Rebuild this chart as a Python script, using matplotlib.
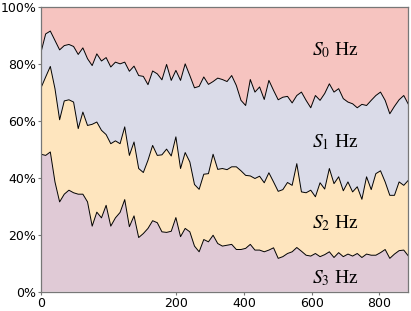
import matplotlib
matplotlib.use('Agg')
import matplotlib.pyplot as plt
from matplotlib.ticker import PercentFormatter
import numpy as np

# boundaries of the stacked shares (percent)
top_s1 = [84.0, 90.4, 91.4, 88.1, 84.8, 86.3, 86.7, 86.0, 83.2, 85.5, 81.7, 79.3, 83.4, 80.9,
          82.1, 78.8, 80.5, 79.9, 80.5, 77.3, 79.1, 75.8, 75.5, 72.6, 77.4, 76.4, 74.3, 79.7,
          74.1, 77.6, 74.1, 79.9, 75.8, 71.5, 72.0, 75.3, 72.7, 73.7, 74.9, 74.4, 73.7, 75.8,
          72.3, 67.1, 65.3, 74.4, 70.0, 71.8, 67.4, 74.1, 70.6, 67.3, 68.2, 68.5,
          66.2, 68.8, 70.0, 67.1, 64.5, 68.8, 67.1, 69.5, 72.9, 70.0, 71.2, 67.7, 66.5,
          65.9, 64.5, 65.7, 65.3, 67.1, 68.8, 70.0, 67.1, 62.4, 65.0, 67.3, 68.8, 65.7]
top_s2 = [71.5, 75.3, 79.0, 71.2, 60.3, 66.9, 67.3, 66.5, 57.2, 63.0, 58.3, 58.7, 59.5, 56.6,
          55.1, 51.9, 52.9, 51.9, 57.8, 47.8, 52.5, 43.2, 41.8, 46.1, 51.3, 47.8, 48.0, 50.0,
          47.6, 54.3, 43.2, 48.8, 45.5, 37.6, 35.9, 41.2, 41.4, 48.2, 42.9, 43.2, 42.8, 43.8,
          43.8, 42.4, 40.8, 40.6, 39.7, 40.5, 38.2, 41.7, 38.5, 35.2, 35.8, 38.3,
          37.3, 44.9, 35.0, 34.7, 35.6, 33.3, 38.2, 36.0, 43.2, 37.9, 40.3, 35.4, 38.5,
          35.0, 36.8, 32.4, 40.3, 35.8, 41.4, 42.4, 38.5, 33.8, 33.8, 38.5, 37.3, 39.1]
top_s3 = [48.2, 47.8, 49.0, 38.5, 31.5, 34.2, 35.6, 34.7, 34.2, 34.2, 31.5, 23.0, 27.9, 25.9,
          30.3, 23.0, 25.9, 27.8, 32.3, 22.8, 26.6, 19.0, 20.4, 22.2, 24.9, 24.2, 21.0, 20.8,
          21.2, 26.0, 19.3, 22.2, 21.0, 16.0, 14.0, 18.3, 17.5, 19.8, 16.9, 16.0, 16.3, 16.6,
          14.8, 14.8, 15.2, 16.6, 14.6, 14.6, 14.0, 14.6, 15.4, 11.7, 12.3, 13.4,
          14.0, 15.5, 14.2, 12.8, 12.5, 13.4, 12.3, 13.0, 14.0, 12.0, 13.7, 12.3, 13.2,
          12.5, 13.4, 12.0, 13.2, 12.8, 12.8, 13.7, 14.8, 11.7, 13.2, 14.4, 14.6, 12.5]

x = np.arange(len(top_s1)) * 13.75
tick_pos = [0, 400, 600, 800, 1000]
tick_labels = ['0', '200', '400', '600', '800']
names = [r'$S_0$ Hz', r'$S_1$ Hz', r'$S_2$ Hz', r'$S_3$ Hz']
colors = ['#F6C4C0', '#DADBE8', '#FEE5BE', '#E0CAD6']
label_y = [82.8, 50.8, 22.2, 2.9]

b1, b2, b3 = np.array(top_s1), np.array(top_s2), np.array(top_s3)
layers = [b3, b2 - b3, b1 - b2, 100 - b1]   # bottom -> top

plt.rcParams['mathtext.fontset'] = 'stix'
fig = plt.figure(figsize=(4.11, 3.11), dpi=100)
ax = fig.add_axes([0.0998, 0.062, 0.8939, 0.917])

ax.stackplot(x, layers, colors=colors[::-1], linewidth=0)
for b in (b1, b2, b3):
    ax.plot(x, b, color='black', lw=0.7)

for name, y in zip(names, label_y):
    ax.text(800, y, name, ha='left', va='baseline', fontsize=14,
            family='Liberation Serif')

ax.set_xlim(x[0], x[-1])
ax.set_ylim(0, 100)
ax.set_xticks(tick_pos, tick_labels)
ax.set_yticks([0, 20, 40, 60, 80, 100])
ax.yaxis.set_major_formatter(PercentFormatter(decimals=0))
ax.tick_params(labelsize=9, length=2, pad=1.5, color='#777777')
for s in ax.spines.values():
    s.set_color('#777777')
    s.set_linewidth(0.9)

fig.savefig('out.png', dpi=100)
